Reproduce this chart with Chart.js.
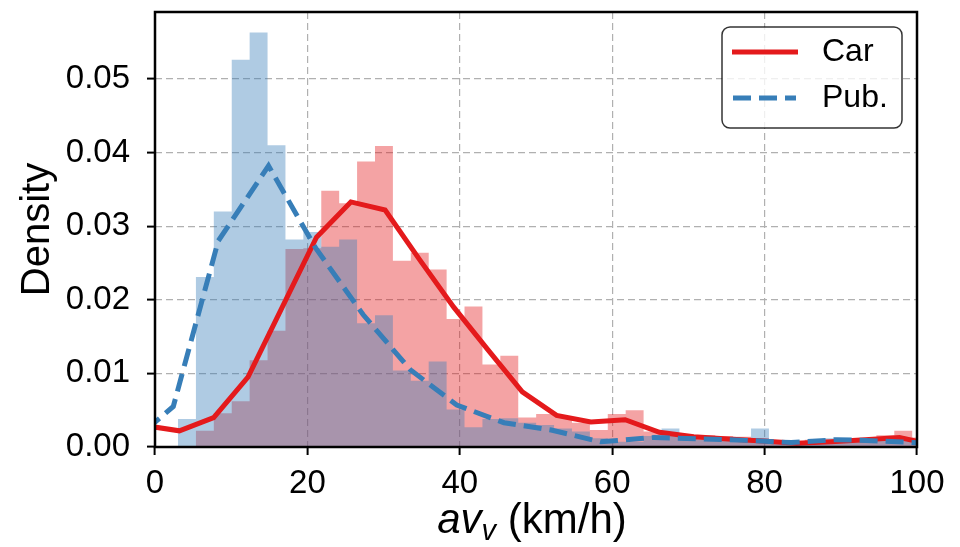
<!DOCTYPE html>
<html>
<head>
<meta charset="utf-8">
<script src="https://cdn.jsdelivr.net/npm/chart.js@4.4.1/dist/chart.umd.min.js"></script>
<style>
  html, body { margin: 0; padding: 0; background: #fff; }
</style>
</head>
<body>
<canvas id="grafica" width="960" height="547"></canvas>
<script>
// bordes de los bins del histograma (km/h)
const binEdges = [3.02, 5.37, 7.72, 10.07, 12.42, 14.77, 17.12, 19.47, 21.82, 24.17,
  26.52, 28.87, 31.22, 33.57, 35.92, 38.27, 40.62, 42.97, 45.32, 47.67,
  50.02, 52.37, 54.72, 57.07, 59.42, 61.77, 64.12, 66.47, 68.82, 71.17,
  73.52, 75.87, 78.22, 80.57, 82.92, 85.27, 87.62, 89.97, 92.32, 94.67,
  97.02, 99.37, 101.72];

// densidad de cada bin
const carHist = [0, 0.0022, 0.0046, 0.0062, 0.0118, 0.0158, 0.0269, 0.0270, 0.0348, 0.0331,
  0.0388, 0.0409, 0.0253, 0.0264, 0.0241, 0.0174, 0.0191, 0.0112, 0.0124, 0.0040,
  0.0045, 0.0041, 0.0033, 0.0023, 0.0045, 0.0050, 0.0021, 0.0018, 0.0016, 0.0016,
  0.0015, 0.0014, 0.0012, 0.0008, 0.0005, 0.0010, 0.0008, 0.0009, 0.0011, 0.0016,
  0.0022, 0.0013];
const pubHist = [0.0038, 0.0231, 0.0320, 0.0526, 0.0563, 0.0410, 0.0282, 0.0292, 0.0272, 0.0282,
  0.0168, 0.0179, 0.0104, 0.0090, 0.0116, 0.0051, 0.0027, 0.0038, 0.0039, 0.0033,
  0.0030, 0.0025, 0.0021, 0.0012, 0.0007, 0.0007, 0.0015, 0.0025, 0.0016, 0.0010,
  0.0012, 0.0010, 0.0025, 0.0008, 0.0005, 0.0006, 0.0012, 0.0012, 0.0008, 0.0010,
  0.0009, 0.0006];

// curvas
const carLineX = [-1.3, 3.2, 7.7, 12.2, 16.7, 21.2, 25.7, 30.2, 34.7, 39.2, 43.7, 48.2,
  52.7, 57.2, 61.7, 66.2, 70.7, 75.2, 79.7, 84.2, 88.7, 93.2, 97.7, 102.2];
const carLineY = [0.0029, 0.0022, 0.0040, 0.0095, 0.0190, 0.0285, 0.0333, 0.0322, 0.0255, 0.0190, 0.0132, 0.0075,
  0.0043, 0.0034, 0.0037, 0.0020, 0.0014, 0.0011, 0.0008, 0.0005, 0.0007, 0.0010, 0.0013, 0.0003];
const pubLineX = [-3.8, 2.4, 8.3, 14.9, 21.1, 27.3, 33.5, 39.6, 45.8, 52.0, 58.5, 65.5,
  71.5, 77.5, 83.5, 89.5, 95.5, 101.5];
const pubLineY = [0.0000, 0.0055, 0.0280, 0.0382, 0.0270, 0.0180, 0.0105, 0.0057, 0.0033, 0.0023, 0.0007, 0.0013,
  0.0011, 0.0009, 0.0006, 0.0010, 0.0008, 0.0005];

const xTicks = [0, 20, 40, 60, 80, 100];
const yTicks = [0, 0.01, 0.02, 0.03, 0.04, 0.05];
const legendLabels = ['Car', 'Pub.'];
const yTitle = 'Density';

const ROJO = '#e41a1c';
const AZUL = '#377eb8';
const FUENTE = "'Liberation Sans', Arial, sans-serif";

function histPuntos(valores) {
  return binEdges.map((e, i) => ({ x: e, y: i < valores.length ? valores[i] : 0 }));
}
function linePuntos(xs, ys) {
  return xs.map((x, i) => ({ x: x, y: ys[i] }));
}

// marco, titulo del eje x y leyenda
const extras = {
  id: 'extras',
  afterDatasetsDraw(chart) {
    const { ctx, chartArea: a } = chart;
    ctx.save();
    ctx.strokeStyle = '#000';
    ctx.lineWidth = 2.5;
    ctx.strokeRect(a.left, a.top, a.right - a.left, a.bottom - a.top);
    ctx.restore();
  },
  afterDraw(chart) {
    const { ctx, chartArea: a } = chart;
    ctx.save();
    // titulo x: av_v (km/h)
    const size = 42;
    const base = 533;
    ctx.fillStyle = '#000';
    ctx.textBaseline = 'alphabetic';
    const f1 = 'italic ' + size + 'px ' + FUENTE;
    const f2 = 'italic ' + Math.round(size * 0.7) + 'px ' + FUENTE;
    const f3 = size + 'px ' + FUENTE;
    ctx.font = f1; const w1 = ctx.measureText('av').width;
    ctx.font = f2; const w2 = ctx.measureText('v').width;
    ctx.font = f3; const w3 = ctx.measureText(' (km/h)').width;
    let x = (a.left + a.right) / 2 - (w1 + w2 + w3) / 2 - 4;
    ctx.font = f1; ctx.fillText('av', x, base); x += w1;
    ctx.font = f2; ctx.fillText('v', x, base + 7); x += w2;
    ctx.font = f3; ctx.fillText(' (km/h)', x, base);

    // leyenda
    const bx = a.right - 195, by = a.top + 15, bw = 180, bh = 101;
    ctx.beginPath();
    ctx.roundRect(bx, by, bw, bh, 8);
    ctx.fillStyle = 'rgba(255,255,255,0.8)';
    ctx.fill();
    ctx.lineWidth = 1.5;
    ctx.strokeStyle = 'rgba(0,0,0,0.8)';
    ctx.stroke();

    ctx.lineWidth = 5;
    ctx.strokeStyle = ROJO;
    ctx.beginPath(); ctx.moveTo(bx + 10, by + 25); ctx.lineTo(bx + 76, by + 25); ctx.stroke();
    ctx.strokeStyle = AZUL;
    ctx.setLineDash([18, 8]);
    ctx.beginPath(); ctx.moveTo(bx + 11, by + 71); ctx.lineTo(bx + 74, by + 71); ctx.stroke();
    ctx.setLineDash([]);

    ctx.font = '32px ' + FUENTE;
    ctx.fillStyle = '#000';
    ctx.textBaseline = 'middle';
    ctx.fillText(legendLabels[0], bx + 100, by + 25);
    ctx.fillText(legendLabels[1], bx + 100, by + 71);
    ctx.restore();
  }
};

const ejeComun = {
  type: 'linear',
  grid: {
    color: '#b0b0b0',
    lineWidth: 1.2,
    tickColor: '#000',
    tickLength: 8,
    tickWidth: 2,
    tickBorderDash: []
  },
  border: { display: false, dash: [7, 4] }
};

new Chart(document.getElementById('grafica'), {
  type: 'line',
  data: {
    datasets: [
      {
        label: legendLabels[1],
        data: linePuntos(pubLineX, pubLineY),
        borderColor: AZUL,
        borderWidth: 5,
        borderDash: [18, 8],
        pointRadius: 0,
        fill: false,
        clip: 0,
        order: 0
      },
      {
        label: legendLabels[0],
        data: linePuntos(carLineX, carLineY),
        borderColor: ROJO,
        borderWidth: 5,
        pointRadius: 0,
        fill: false,
        clip: 0,
        order: 1
      },
      {
        label: 'Pub. hist',
        data: histPuntos(pubHist),
        stepped: 'before',
        borderWidth: 0,
        borderColor: 'rgba(0,0,0,0)',
        backgroundColor: 'rgba(55,126,184,0.4)',
        pointRadius: 0,
        fill: 'origin',
        clip: 0,
        order: 2
      },
      {
        label: 'Car hist',
        data: histPuntos(carHist),
        stepped: 'before',
        borderWidth: 0,
        borderColor: 'rgba(0,0,0,0)',
        backgroundColor: 'rgba(228,26,28,0.4)',
        pointRadius: 0,
        fill: 'origin',
        clip: 0,
        order: 3
      }
    ]
  },
  options: {
    responsive: false,
    animation: false,
    layout: { padding: { left: 0, right: 43, top: 12, bottom: 0 } },
    plugins: {
      legend: { display: false },
      tooltip: { enabled: false }
    },
    scales: {
      x: {
        ...ejeComun,
        min: 0,
        max: 100,
        afterBuildTicks: s => { s.ticks = xTicks.map(v => ({ value: v })); },
        afterFit: s => { s.height = 100; s.paddingLeft = 0; s.paddingRight = 0; },
        ticks: {
          color: '#000',
          font: { family: FUENTE, size: 33 },
          padding: 9,
          maxRotation: 0,
          autoSkip: false,
          callback: v => String(v)
        }
      },
      y: {
        ...ejeComun,
        min: 0,
        max: 0.0591,
        afterBuildTicks: s => { s.ticks = yTicks.map(v => ({ value: v })); },
        afterFit: s => { s.width = 155; s.paddingTop = 0; s.paddingBottom = 0; },
        ticks: {
          color: '#000',
          font: { family: FUENTE, size: 33 },
          padding: 17,
          callback: v => v.toFixed(2)
        },
        title: {
          display: true,
          text: yTitle,
          color: '#000',
          font: { family: FUENTE, size: 40 },
          padding: { top: 14, bottom: 0 }
        }
      }
    }
  },
  plugins: [extras]
});
</script>
</body>
</html>
